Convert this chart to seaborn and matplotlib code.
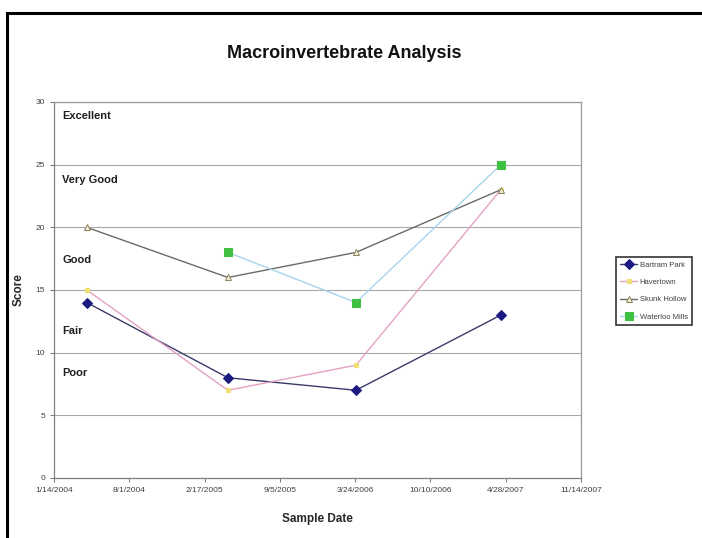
import pandas as pd
import numpy as np
import matplotlib
matplotlib.use("Agg")
import matplotlib.pyplot as plt
import matplotlib.dates as mdates
import matplotlib.ticker as mticker
from matplotlib.patches import Rectangle
import seaborn as sns

# sample dates and scores per site
sample_dates = ["2004-04-10", "2005-04-20", "2006-03-26", "2007-04-15"]
bartram_park = [14, 8, 7, 13]
havertown = [15, 7, 9, 23]
skunk_hollow = [20, 16, 18, 23]
waterloo_mills = [np.nan, 18, 14, 25]

tick_dates = ["2004-01-14", "2004-08-01", "2005-02-17", "2005-09-05",
              "2006-03-24", "2006-10-10", "2007-04-28", "2007-11-14"]

ratings = ["Excellent", "Very Good", "Good", "Fair", "Poor"]
rating_y = [28.9, 23.8, 17.4, 11.7, 8.4]

sns.set_style("white")
plt.rcParams['font.family'] = ["Liberation Sans", "DejaVu Sans"]

fig = plt.figure(figsize=(7.02, 5.38), dpi=100)
ax = fig.add_axes([54 / 702, 60 / 538, 527 / 702, 376 / 538])

dates = pd.to_datetime(sample_dates)
series = [
    ("Bartram Park", bartram_park, dict(color="#3a3a6a", marker="D", markersize=5,
                                        markerfacecolor="#1a1a80", markeredgecolor="#1a1a80")),
    ("Havertown", havertown, dict(color="#e4a2c4", marker="s", markersize=2.5,
                                  markerfacecolor="#f0e070", markeredgecolor="#f0e070")),
    ("Skunk Hollow", skunk_hollow, dict(color="#6a6a6a", marker="^", markersize=4,
                                        markerfacecolor="#f4f0d8", markeredgecolor="#908860")),
    ("Waterloo Mills", waterloo_mills, dict(color="#a8d4ec", marker="s", markersize=5.5,
                                            markerfacecolor="#40c040", markeredgecolor="#40c040")),
]

for name, vals, style in series:
    df = pd.DataFrame({"date": dates, "score": vals}).dropna()
    sns.lineplot(x="date", y="score", data=df, ax=ax, label=name,
                 linewidth=1.0, **style)

ax.set_xlim(pd.Timestamp(tick_dates[0]), pd.Timestamp(tick_dates[-1]))
ax.set_ylim(0, 30)
ax.set_yticks(range(0, 31, 5))
ax.xaxis.set_major_locator(mticker.FixedLocator(mdates.date2num(pd.to_datetime(tick_dates))))
ax.xaxis.set_major_formatter(mdates.DateFormatter("%-m/%-d/%Y"))

ax.yaxis.grid(True, color="#a8a8a8", linewidth=0.8)
ax.xaxis.grid(False)
for sp in ax.spines.values():
    sp.set_color("#9a9a9a")
    sp.set_linewidth(0.9)
ax.spines["left"].set_color("#808080")
ax.spines["bottom"].set_color("#808080")

ax.tick_params(axis="both", which="major", length=3, width=0.8, color="#808080",
               labelsize=6, labelcolor="#404040", direction="out")
ax.tick_params(axis="both", bottom=True, left=True)

for txt, yv in zip(ratings, rating_y):
    ax.text(pd.Timestamp("2004-01-14") + pd.Timedelta(days=22), yv, txt,
            fontsize=8, fontweight="bold", color="#202020", va="center", ha="left")

ax.set_xlabel("Sample Date", fontsize=8.5, fontweight="bold", labelpad=14)
ax.set_ylabel("Score", fontsize=8.5, fontweight="bold", labelpad=8)

fig.text(344 / 702, 1 - 53 / 538, "Macroinvertebrate Analysis", ha="center", va="center",
         fontsize=13, fontweight="bold", color="#111111")

handles, labels = ax.get_legend_handles_labels()
ax.get_legend().remove()
leg = fig.legend(handles, labels, loc="upper left",
                 bbox_to_anchor=(612 / 702, 1 - 253 / 538),
                 frameon=True, fancybox=False, handlelength=2.2,
                 borderpad=0.6, labelspacing=1.3, handletextpad=0.3,
                 prop={"size": 5.5})
leg.get_frame().set_edgecolor("black")
leg.get_frame().set_linewidth(1.2)
for t in leg.get_texts():
    t.set_color("#404040")

# outer chart frame
fig.patches.append(Rectangle((6.5 / 702, -0.05), 1.1, 1 - 12.5 / 538 + 0.05,
                             transform=fig.transFigure, fill=False,
                             edgecolor="black", linewidth=2.2))

fig.savefig("out.png", dpi=100)
